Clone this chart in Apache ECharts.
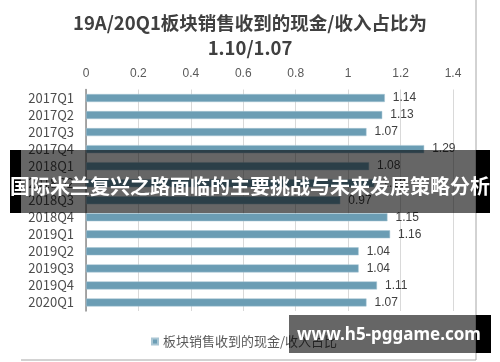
<!DOCTYPE html>
<html>
<head>
<meta charset="utf-8">
<script src="https://cdn.jsdelivr.net/npm/echarts@6/dist/echarts.min.js"></script>
<style>
  html, body { margin: 0; padding: 0; background: #fff; }
  #chart { width: 500px; height: 362px; }
</style>
</head>
<body>
<div id="chart"></div>
<script>
// 数据
const quarters = ['2017Q1', '2017Q2', '2017Q3', '2017Q4', '2018Q1', '2018Q2', '2018Q3',
  '2018Q4', '2019Q1', '2019Q2', '2019Q3', '2019Q4', '2020Q1'];
// 2018Q2 被横幅遮住, 估计值
const cashRatio = [1.14, 1.13, 1.07, 1.29, 1.08, 1.10, 0.97, 1.15, 1.16, 1.04, 1.04, 1.11, 1.07];
const seriesName = '板块销售收到的现金/收入占比';
const titleText = '19A/20Q1板块销售收到的现金/收入占比为\n1.10/1.07';

const cjk = '"Noto Sans CJK SC", "Noto Sans", sans-serif';
const chart = echarts.init(document.getElementById('chart'));

chart.setOption({
  animation: false,
  title: {
    text: titleText,
    left: 'center',
    top: 5,
    textStyle: { fontFamily: cjk, fontSize: 18.5, fontWeight: 'bold', color: '#404040', lineHeight: 25 }
  },
  grid: { left: 86, right: 47, top: 89.5, bottom: 51 },
  legend: {
    left: 146,
    top: 330,
    itemWidth: 6,
    itemHeight: 6,
    itemGap: 4,
    icon: 'rect',
    textStyle: { fontFamily: cjk, fontSize: 13, color: '#595959' },
    data: [seriesName]
  },
  xAxis: {
    type: 'value',
    position: 'top',
    min: 0,
    max: 1.4,
    interval: 0.2,
    axisLine: { show: false },
    axisTick: { show: false },
    axisLabel: {
      color: '#595959', fontFamily: 'Liberation Sans, Arial', fontSize: 12, margin: 10,
      formatter: v => String(Math.round(v * 10) / 10)
    },
    splitLine: { lineStyle: { color: '#d9d9d9', width: 1 } }
  },
  yAxis: {
    type: 'category',
    inverse: true,
    data: quarters,
    axisLine: { lineStyle: { color: '#8c8c8c', width: 1.5 } },
    axisTick: { show: false },
    axisLabel: { color: '#4d4d4d', fontFamily: cjk, fontSize: 13, margin: 12 }
  },
  series: [{
    name: seriesName,
    type: 'bar',
    data: cashRatio,
    barWidth: 8,
    itemStyle: { color: '#6b9db4', borderColor: '#a9c6d4', borderWidth: 0.5 },
    label: {
      show: true,
      position: 'right',
      distance: 8,
      color: '#404040',
      fontFamily: 'Liberation Sans, Arial',
      fontSize: 12,
      formatter: p => p.value.toFixed(2)
    }
  }],
  graphic: [
    { type: 'line', shape: { x1: 476, y1: 0, x2: 476, y2: 360 }, style: { stroke: '#a6a6a6', lineWidth: 1 } },
    { type: 'line', shape: { x1: 21, y1: 360, x2: 476, y2: 360 }, style: { stroke: '#a6a6a6', lineWidth: 1 } },
    // 横幅
    { type: 'rect', z: 100, shape: { x: 10, y: 150, width: 11, height: 63 }, style: { fill: '#000' } },
    { type: 'rect', z: 100, shape: { x: 476, y: 150, width: 14, height: 63 }, style: { fill: '#000' } },
    { type: 'rect', z: 100, shape: { x: 21, y: 150, width: 455, height: 63 }, style: { fill: 'rgba(0,0,0,0.6)' } },
    {
      type: 'text', z: 101, x: 250, y: 186,
      style: {
        text: '国际米兰复兴之路面临的主要挑战与未来发展策略分析',
        fill: '#fff', font: 'bold 20px "Noto Sans CJK SC", sans-serif',
        align: 'center', verticalAlign: 'middle'
      }
    },
    { type: 'rect', z: 100, shape: { x: 476, y: 315, width: 15, height: 38 }, style: { fill: '#000' } },
    { type: 'rect', z: 100, shape: { x: 289, y: 315, width: 187, height: 38 }, style: { fill: 'rgba(0,0,0,0.6)' } },
    {
      type: 'text', z: 101, x: 389, y: 335,
      style: {
        text: 'www.h5-pggame.com',
        fill: '#fff', font: 'bold 17px "Noto Sans", sans-serif',
        align: 'center', verticalAlign: 'middle'
      }
    }
  ]
});
</script>
</body>
</html>
